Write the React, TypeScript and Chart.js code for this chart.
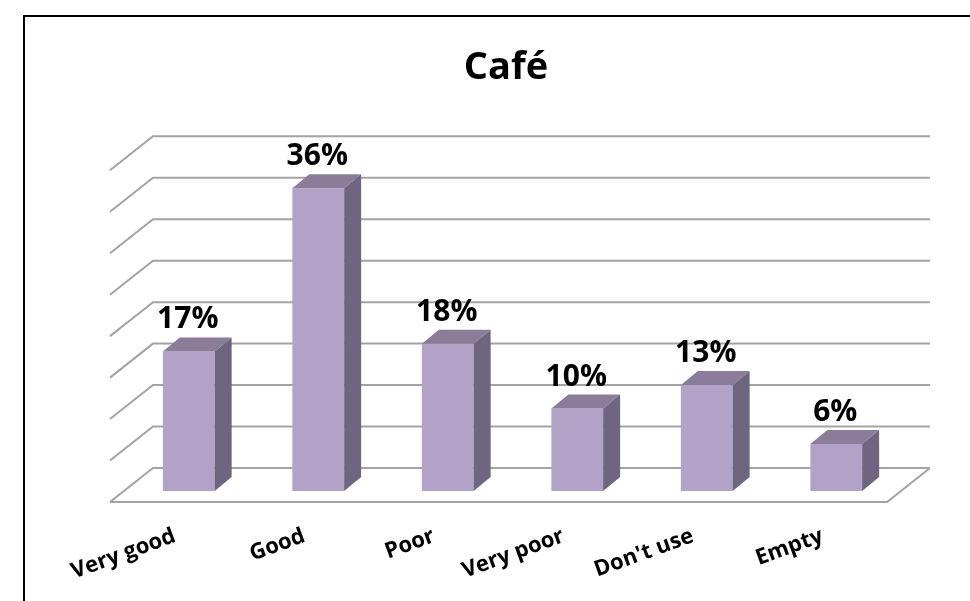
import { useEffect, useRef } from 'react';
import { Chart, registerables } from 'chart.js';

Chart.register(...registerables);

const chartTitle = 'Café';
const categories = ['Very good', 'Good', 'Poor', 'Very poor', "Don't use", 'Empty'];
const values = [16.6, 36, 17.5, 9.8, 12.6, 5.6];
const yMin = 0;
const yMax = 40;
const yStep = 5;

const FRONT = '#B3A2C7';
const TOP = '#8B7D99';
const SIDE = '#706580';
const GRID = '#a3a3a3';
const FONT = '"Open Sans", sans-serif';

const threeD = {
  id: 'threeD',
  beforeDatasetsDraw(chart: any) {
    const { ctx, chartArea: a, scales } = chart;
    const y = scales.y;
    const y0 = y.getPixelForValue(0);
    const backY = (v: number) => y0 - 23 - (y0 - y.getPixelForValue(v)) * 0.986;
    ctx.save();
    ctx.strokeStyle = GRID;
    ctx.lineWidth = 2;
    ctx.lineJoin = 'miter';
    ctx.beginPath();
    for (let v = yMin; v <= yMax; v += yStep) {
      const yb = backY(v);
      ctx.moveTo(a.left - 14, yb + 34);
      ctx.lineTo(a.left + 29, yb);
      ctx.lineTo(a.right + 29, yb);
    }
    const yb0 = backY(0);
    ctx.moveTo(a.left - 14, yb0 + 34);
    ctx.lineTo(a.right - 14, yb0 + 34);
    ctx.lineTo(a.right + 29, yb0);
    ctx.stroke();
    ctx.restore();
  },
  afterDatasetsDraw(chart: any) {
    const { ctx } = chart;
    const meta = chart.getDatasetMeta(0);
    const dx = 17;
    const dy = -14;
    ctx.save();
    meta.data.forEach((bar: any, i: number) => {
      const { x, y, width, base } = bar.getProps(['x', 'y', 'width', 'base'], true);
      const l = x - width / 2;
      const r = x + width / 2;
      ctx.fillStyle = TOP;
      ctx.beginPath();
      ctx.moveTo(l, y);
      ctx.lineTo(l + dx, y + dy);
      ctx.lineTo(r + dx, y + dy);
      ctx.lineTo(r, y);
      ctx.closePath();
      ctx.fill();
      ctx.fillStyle = SIDE;
      ctx.beginPath();
      ctx.moveTo(r, y);
      ctx.lineTo(r + dx, y + dy);
      ctx.lineTo(r + dx, base + dy);
      ctx.lineTo(r, base);
      ctx.closePath();
      ctx.fill();
      ctx.fillStyle = '#000';
      ctx.font = 'bold 30px ' + FONT;
      ctx.textAlign = 'center';
      ctx.textBaseline = 'alphabetic';
      ctx.fillText(Math.round(values[i]) + '%', x - 1, y - 23);
    });
    ctx.restore();
  },
  afterDraw(chart: any) {
    const { ctx } = chart;
    ctx.save();
    ctx.fillStyle = '#000';
    ctx.fillRect(23, 15, 2, 601);
    ctx.fillRect(23, 15, 960, 2);
    ctx.restore();
  },
};

export default function App() {
  const ref = useRef<HTMLCanvasElement>(null);
  useEffect(() => {
    if (!ref.current) return;
    const chart = new Chart(ref.current, {
      type: 'bar',
      data: {
        labels: categories,
        datasets: [
          {
            data: values,
            backgroundColor: FRONT,
            borderWidth: 0,
            barPercentage: 0.4,
            categoryPercentage: 1,
          },
        ],
      },
      options: {
        animation: false,
        responsive: false,
        layout: { padding: { left: 111, right: 69, top: 0, bottom: 0 } },
        plugins: {
          legend: { display: false },
          tooltip: { enabled: false },
          title: {
            display: true,
            text: chartTitle,
            color: '#000',
            font: { family: FONT, size: 38, weight: 'bold' },
            padding: { top: 45, bottom: 64 },
          },
        },
        scales: {
          x: {
            grid: { display: false, drawTicks: false },
            border: { display: false },
            ticks: {
              autoSkip: false,
              minRotation: 20,
              maxRotation: 20,
              padding: 32,
              labelOffset: -14,
              color: '#000',
              font: { family: FONT, size: 22, weight: 'bold' },
            },
            afterFit: (s: any) => {
              s.height = 110;
            },
          },
          y: {
            min: yMin,
            max: yMax,
            ticks: { display: false, stepSize: yStep },
            grid: { display: false },
            border: { display: false },
            afterFit: (s: any) => {
              s.width = 13;
            },
          },
        },
      },
      plugins: [threeD],
    } as any);
    return () => chart.destroy();
  }, []);
  return (
    <div style={{ position: 'absolute', left: 0, top: 0, width: 970, height: 601, background: '#fff' }}>
      <canvas ref={ref} width={970} height={601} style={{ display: 'block' }} />
    </div>
  );
}
